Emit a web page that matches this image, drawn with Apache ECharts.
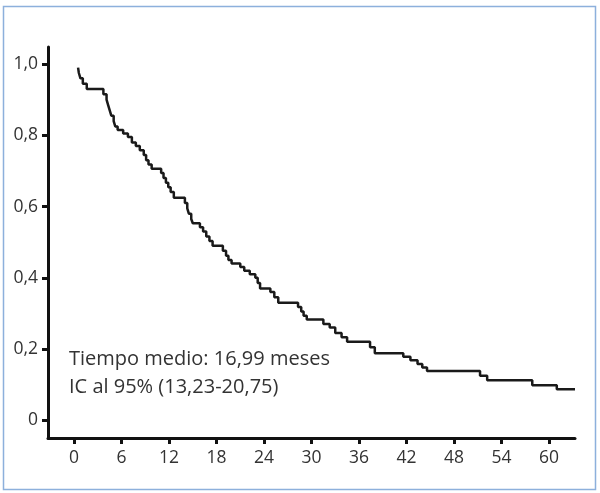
<!DOCTYPE html>
<html>
<head>
<meta charset="utf-8">
<script src="https://cdn.jsdelivr.net/npm/echarts@6/dist/echarts.min.js"></script>
<style>
html,body{margin:0;padding:0;background:#fff;}
#chart{width:600px;height:493px;}
</style>
</head>
<body>
<div id="chart"></div>
<script>
// Kaplan-Meier curve, time in months
const times = [0.5,0.6,0.8,1.1,1.6,3.7,4.1,4.3,4.5,4.7,5.0,5.2,5.5,6.2,6.8,7.3,7.8,8.3,8.8,9.1,9.4,9.8,11.0,11.3,11.6,11.9,12.2,12.6,14.0,14.3,14.5,14.8,15.0,15.9,16.3,16.7,17.1,17.5,18.8,19.2,19.5,19.9,21.0,21.5,22.2,22.9,23.2,23.5,24.8,25.3,25.8,28.3,28.7,29.0,29.4,31.5,32.3,33.0,33.8,34.5,37.4,38.0,41.6,42.5,43.4,44.0,44.6,51.3,52.2,57.9,61.0,63.3];
const survival = [0.99,0.975,0.96,0.945,0.93,0.915,0.90,0.885,0.87,0.855,0.84,0.825,0.815,0.805,0.795,0.78,0.77,0.758,0.745,0.73,0.718,0.706,0.694,0.68,0.667,0.654,0.641,0.625,0.61,0.595,0.58,0.565,0.553,0.542,0.53,0.516,0.503,0.49,0.476,0.462,0.45,0.44,0.43,0.42,0.41,0.40,0.385,0.37,0.36,0.345,0.33,0.318,0.305,0.293,0.283,0.27,0.26,0.245,0.233,0.22,0.205,0.188,0.178,0.168,0.158,0.148,0.138,0.125,0.112,0.098,0.087,0.087];
const xTicks = [0,6,12,18,24,30,36,42,48,54,60];
const yTicks = [0,0.2,0.4,0.6,0.8,1.0];
const annotationLines = ['Tiempo medio: 16,99 meses','IC al 95% (13,23-20,75)'];

const data = times.map((t,i)=>[t,survival[i]]);
const chart = echarts.init(document.getElementById('chart'));
const textColor = '#333333';
const font = '"Open Sans", "Noto Sans", sans-serif';
chart.setOption({
  animation:false,
  backgroundColor:'#ffffff',
  grid:{left:48,right:25,top:47,bottom:55},
  xAxis:{
    type:'value',min:-3.3,max:63.3,
    axisLine:{onZero:false,lineStyle:{color:'#111',width:3}},
    axisTick:{show:true,length:6,lineStyle:{color:'#111',width:3},customValues:xTicks},
    axisLabel:{color:textColor,fontSize:17.5,fontFamily:font,margin:11,customValues:xTicks,formatter:v=>String(v)},
    splitLine:{show:false}
  },
  yAxis:{
    type:'value',min:-0.05,max:1.048,
    axisLine:{show:true,onZero:false,lineStyle:{color:'#111',width:3}},
    axisTick:{show:true,length:6,lineStyle:{color:'#111',width:3},customValues:yTicks},
    axisLabel:{color:textColor,fontSize:17.5,fontFamily:font,margin:10,customValues:yTicks,
      formatter:v=>Math.abs(v)<1e-9?'0':v.toFixed(1).replace('.',',')},
    splitLine:{show:false}
  },
  series:[{
    type:'line',step:'end',showSymbol:false,data:data,
    lineStyle:{color:'#1a1a1a',width:2.5}
  }],
  graphic:[
    {type:'rect',shape:{x:3.5,y:6.5,width:592,height:483},style:{fill:'none',stroke:'#8db0dc',lineWidth:1.5},silent:true},
    {type:'text',left:69,top:345,style:{text:annotationLines.join('\n'),font:'20px '+font,fill:textColor,lineHeight:28}}
  ]
});
</script>
</body>
</html>
